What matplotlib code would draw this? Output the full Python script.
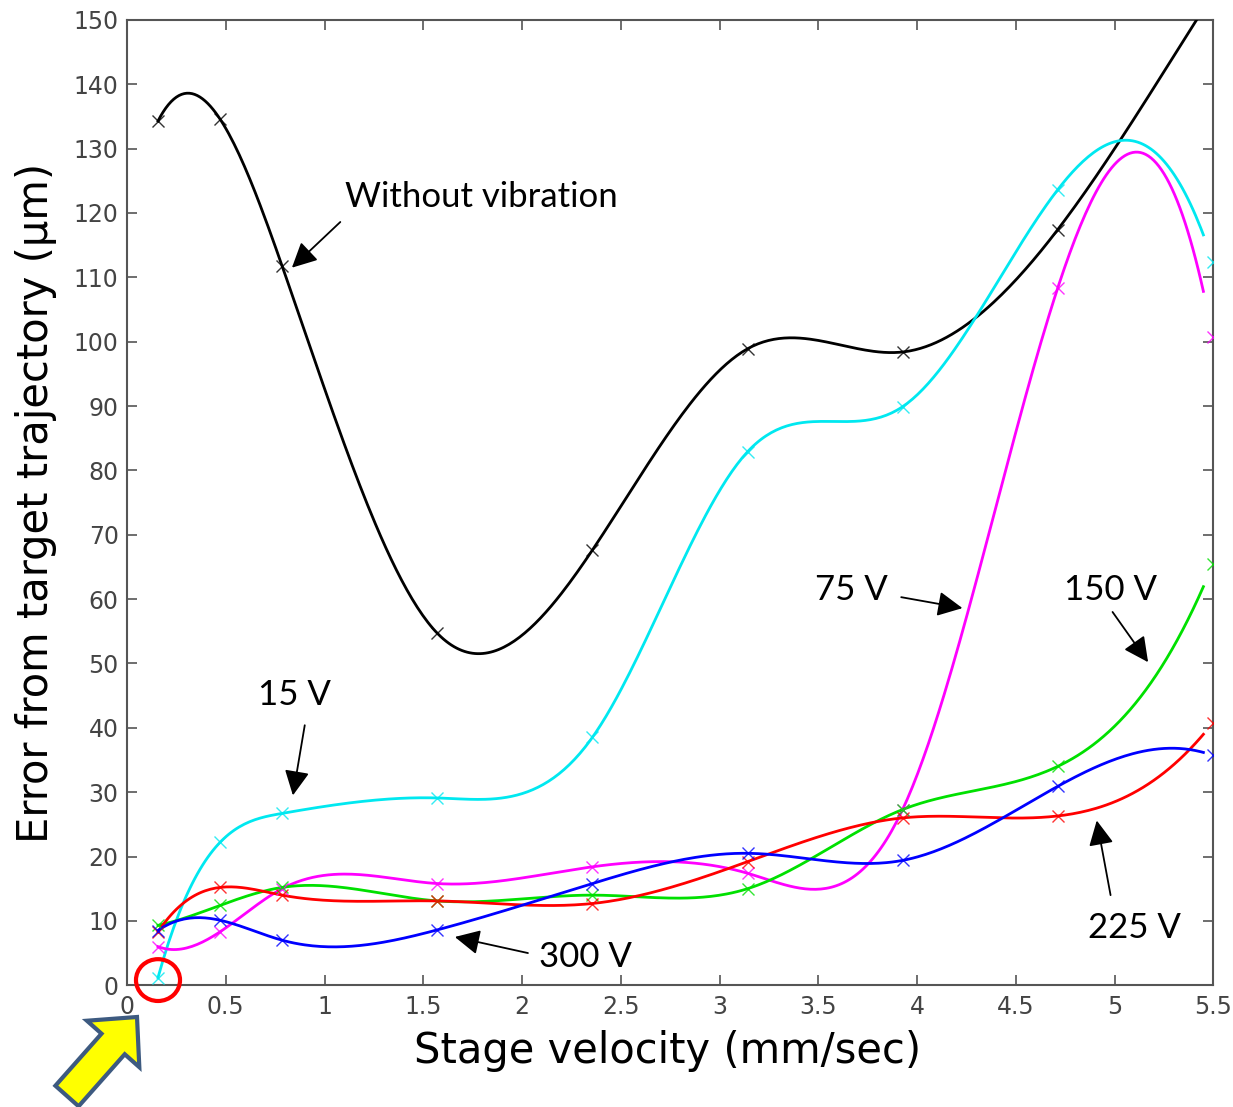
import numpy as np
import matplotlib
matplotlib.use("Agg")
import matplotlib.pyplot as plt
from matplotlib.patches import Ellipse, FancyArrow
from matplotlib.transforms import IdentityTransform

# stage velocities where the error was measured (mm/sec)
velocity = [0.157, 0.471, 0.785, 1.571, 2.356, 3.142, 3.927, 4.712, 5.498]

# error from target trajectory (um)
err_none = [134.3, 134.6, 111.8, 54.7, 67.6, 98.9, 98.4, 117.4, 154.0]
err_15v = [1.2, 22.2, 26.7, 29.1, 38.5, 82.9, 89.9, 123.6, 112.4]
err_75v = [6.0, 8.3, 15.0, 15.8, 18.4, 17.4, 27.3, 108.3, 100.7]
err_150v = [9.3, 12.4, 15.2, 13.1, 14.0, 15.0, 27.3, 34.0, 65.4]
err_225v = [8.3, 15.2, 14.0, 13.1, 12.7, 19.2, 26.0, 26.3, 40.8]
err_300v = [8.5, 10.1, 7.0, 8.6, 15.8, 20.5, 19.4, 30.9, 35.7]

series = [
    (err_none, 'black'),
    (err_15v, '#00e8f0'),
    (err_75v, '#ff00ff'),
    (err_150v, '#00e000'),
    (err_225v, '#ff0000'),
    (err_300v, '#0000ff'),
]


def spline(x, y, xs):
    # cubic spline, not-a-knot ends (like matlab's spline)
    x = np.asarray(x, float)
    y = np.asarray(y, float)
    n = len(x)
    h = np.diff(x)
    d = np.diff(y) / h
    A = np.zeros((n, n))
    b = np.zeros(n)
    A[0, 0], A[0, 1], A[0, 2] = h[1], -(h[0] + h[1]), h[0]
    A[-1, -3], A[-1, -2], A[-1, -1] = h[-1], -(h[-2] + h[-1]), h[-2]
    for i in range(1, n - 1):
        A[i, i - 1] = h[i - 1]
        A[i, i] = 2 * (h[i - 1] + h[i])
        A[i, i + 1] = h[i]
        b[i] = 6 * (d[i] - d[i - 1])
    M = np.linalg.solve(A, b)
    k = np.clip(np.searchsorted(x, xs) - 1, 0, n - 2)
    x0, x1, hk = x[k], x[k + 1], h[k]
    return (M[k] * (x1 - xs) ** 3 / (6 * hk) + M[k + 1] * (xs - x0) ** 3 / (6 * hk)
            + (y[k] / hk - M[k] * hk / 6) * (x1 - xs)
            + (y[k + 1] / hk - M[k + 1] * hk / 6) * (xs - x0))


fig = plt.figure(figsize=(12.33, 11.07), dpi=100)
ax = fig.add_axes([0.103, 0.110, 0.881, 0.872])

xs = np.linspace(velocity[0], 5.45, 400)
for vals, col in series:
    ax.plot(xs, spline(velocity, vals, xs), color=col, lw=2.0, zorder=3)
    ax.plot(velocity, vals, ls='none', marker='x', ms=9, mew=1.0,
            color=col, alpha=0.8, zorder=4)

ax.set_xlim(0, 5.5)
ax.set_ylim(0, 150)
ax.set_xticks(np.arange(0, 5.51, 0.5))
ax.set_xticklabels(['0', '0.5', '1', '1.5', '2', '2.5', '3', '3.5', '4', '4.5', '5', '5.5'])
ax.set_yticks(np.arange(0, 151, 10))
ax.tick_params(direction='in', length=7, width=1.2, color='#555555',
               top=True, right=True, labelsize=17, labelcolor='#444444')
ax.tick_params(axis='x', pad=7)
ax.tick_params(axis='y', pad=6)
for s in ax.spines.values():
    s.set_color('#555555')
    s.set_linewidth(1.5)

lab_font = dict(family=['DejaVu Sans'], size=30)
ax.set_xlabel('Stage velocity (mm/sec)', **lab_font)
ax.set_ylabel('Error from target trajectory (μm)', **lab_font)
ax.xaxis.set_label_coords(0.498, -0.046)
ax.yaxis.set_label_coords(-0.064, 0.50)

# arrow annotations
ann_font = dict(family=['Lato', 'DejaVu Sans'], size=25)
arrow = dict(arrowstyle='-|>', color='black', lw=1.3, mutation_scale=38,
             shrinkA=0, shrinkB=0)
ax.text(1.105, 122.5, 'Without vibration', va='center', ha='left', **ann_font)
ax.annotate('', xy=(0.835, 111.5), xytext=(1.08, 118.6), arrowprops=arrow)
ax.text(0.85, 45.1, '15 V', va='center', ha='center', **ann_font)
ax.annotate('', xy=(0.84, 29.5), xytext=(0.90, 40.4), arrowprops=arrow)
ax.text(3.67, 61.4, '75 V', va='center', ha='center', **ann_font)
ax.annotate('', xy=(4.23, 58.6), xytext=(3.92, 60.3), arrowprops=arrow)
ax.text(4.98, 61.4, '150 V', va='center', ha='center', **ann_font)
ax.annotate('', xy=(5.17, 50.2), xytext=(4.99, 58.0), arrowprops=arrow)
ax.text(5.10, 8.9, '225 V', va='center', ha='center', **ann_font)
ax.annotate('', xy=(4.91, 25.6), xytext=(4.98, 14.0), arrowprops=arrow)
ax.text(2.32, 4.35, '300 V', va='center', ha='center', **ann_font)
ax.annotate('', xy=(1.66, 7.5), xytext=(2.03, 5.0), arrowprops=arrow)

# red circle round the 15 V point at the lowest speed
ax.add_patch(Ellipse((0.157, 0.8), 0.223, 6.5, fill=False, ec='#ff0000',
                     lw=3, clip_on=False, zorder=6))

# yellow block arrow pointing at it (pixel coords)
fig.add_artist(FancyArrow(67, 11, 70, 79, width=31, head_width=70,
                          head_length=36, length_includes_head=True,
                          fc='#ffff00', ec='#3d5a80', lw=3,
                          transform=IdentityTransform()))

fig.savefig('out.png', dpi=100)
